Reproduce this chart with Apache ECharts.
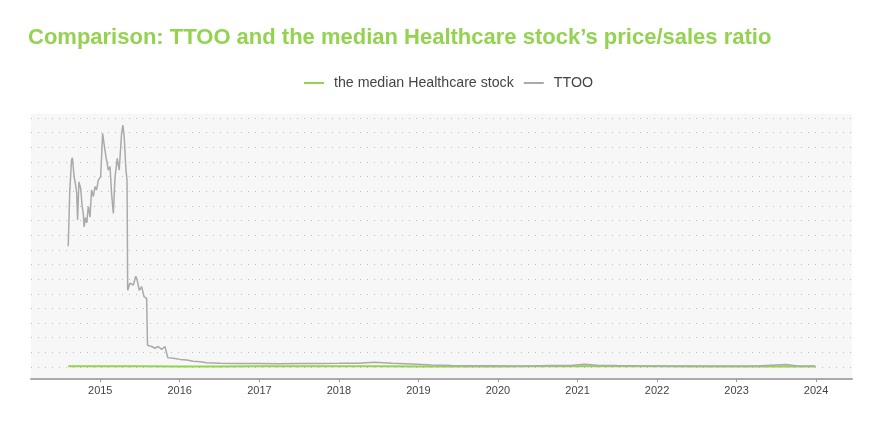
<!DOCTYPE html>
<html><head><meta charset="utf-8">
<script src="https://cdn.jsdelivr.net/npm/echarts@6/dist/echarts.min.js"></script>
<style>html,body{margin:0;padding:0;background:#fff}#c{width:880px;height:440px}</style>
</head><body><div id="c"></div>
<script>
const seriesNames = ['the median Healthcare stock', 'TTOO'];
const ttooDates = ['2014-08-07','2014-08-14','2014-08-22','2014-08-26','2014-09-03','2014-09-10','2014-09-15','2014-09-19','2014-09-25','2014-10-03','2014-10-10','2014-10-15','2014-10-19','2014-10-25','2014-10-31','2014-11-07','2014-11-15','2014-11-22','2014-11-30','2014-12-08','2014-12-15','2014-12-23','2015-01-03','2015-01-12','2015-01-18','2015-01-27','2015-02-03','2015-02-07','2015-02-15','2015-02-22','2015-03-02','2015-03-10','2015-03-15','2015-03-20','2015-03-29','2015-04-09','2015-04-15','2015-04-21','2015-04-29','2015-05-04','2015-05-07','2015-05-17','2015-06-02','2015-06-13','2015-06-20','2015-06-29','2015-07-10','2015-07-21','2015-08-02','2015-08-06','2015-08-25','2015-09-09','2015-09-24','2015-10-10','2015-10-25','2015-11-02','2015-11-07','2015-12-02','2016-01-02','2016-02-02','2016-03-03','2016-04-03','2016-05-04','2016-07-04','2016-10-01','2017-01-01','2017-04-01','2017-07-01','2017-10-01','2018-01-01','2018-04-01','2018-06-15','2018-09-01','2018-12-01','2019-03-01','2019-06-01','2019-09-01','2019-12-01','2020-03-01','2020-06-01','2020-09-01','2020-12-01','2021-02-01','2021-04-01','2021-07-01','2021-10-01','2022-01-01','2022-06-01','2022-12-01','2023-04-01','2023-08-15','2023-10-01','2023-12-29'];
const ttooValues = [206,300,353,357,325,310,297,251,316,305,274,262,239,255,246,274,256,302,291,308,302,319,325,399,382,359,345,336,342,296,262,325,340,356,336,399,413,393,336,319,131,143,140,155,148,131,137,120,117,37,35,32,35,30,35,34,16,15,13,12,10,9,7.3,6.3,6,5.8,5.6,5.8,6,6.2,6.6,8,6.5,5,3.5,2.5,2.2,2,1.8,1.9,2.4,2.6,4.5,3,2.4,2,1.8,1.7,1.6,1.6,4.2,2.2,1.7];
const medianDates = ['2014-08-07','2015-01-01','2015-07-01','2016-01-01','2016-07-01','2017-01-01','2017-07-01','2018-01-01','2018-07-01','2019-01-01','2019-07-01','2020-01-01','2020-07-01','2021-01-01','2021-07-01','2022-01-01','2022-07-01','2023-01-01','2023-07-01','2023-12-29'];
const medianValues = [1.2,1.2,1.1,1.0,1.0,1.1,1.1,1.2,1.2,1.0,1.0,1.0,1.2,1.4,1.3,1.1,1.0,1.0,1.0,1.0];
const yearTicks = ['2015','2016','2017','2018','2019','2020','2021','2022','2023','2024'];

const chart = echarts.init(document.getElementById('c'));
const GREEN = '#93d350', GREY = '#aaaaaa';
const YEAR = 365.25 * 86400000;
chart.setOption({
  animation: false,
  title: {
    text: 'Comparison: TTOO and the median Healthcare stock\u2019s price/sales ratio',
    left: 23, top: 22,
    textStyle: { color: GREEN, fontSize: 22, fontWeight: 'bold', fontFamily: 'Liberation Sans, Arial, sans-serif' }
  },
  legend: {
    top: 71, left: 299, itemWidth: 20, itemHeight: 2, itemGap: 10, icon: 'rect',
    textStyle: { color: '#444', fontSize: 14.2, fontFamily: 'Liberation Sans, Arial, sans-serif', padding: [0,0,0,5] },
    data: [{name: seriesNames[0], itemStyle:{color: GREEN}}, {name: seriesNames[1], itemStyle:{color: GREY}}]
  },
  graphic: [{ type: 'rect', z: -10, silent: true, shape: { x: 31, y: 114, width: 821, height: 265 }, style: { fill: '#f7f7f7' } }],
  grid: { left: 31, right: 28, top: 118, bottom: 73 },
  xAxis: {
    type: 'time', min: '2014-02-17', max: '2024-06-14', offset: 12,
    minInterval: YEAR * 0.98, maxInterval: YEAR * 1.02, splitNumber: 10,
    axisLine: { onZero: false, lineStyle: { color: '#aaaaaa', width: 2 } },
    axisTick: { show: true, length: 3, lineStyle: { color: '#999' } },
    splitLine: { show: false },
    axisLabel: {
      color: '#444', fontSize: 11, margin: 6, fontFamily: 'Liberation Sans, Arial, sans-serif',
      showMinLabel: false, showMaxLabel: false,
      formatter: function (v) { const y = String(new Date(v).getFullYear()); return yearTicks.indexOf(y) >= 0 ? y : ''; }
    }
  },
  yAxis: {
    type: 'value', min: 0, max: 425, interval: 25,
    axisLine: { show: false }, axisTick: { show: false }, axisLabel: { show: false },
    splitLine: { lineStyle: { color: '#bdbdbd', type: [1, 6], width: 1 } }
  },
  series: [
    { name: seriesNames[0], type: 'line', symbol: 'none', lineStyle: { color: GREEN, width: 2 }, itemStyle: {color: GREEN},
      data: medianDates.map((d, i) => [d, medianValues[i]]), z: 2 },
    { name: seriesNames[1], type: 'line', symbol: 'none', lineStyle: { color: GREY, width: 1.5 }, itemStyle: {color: GREY},
      data: ttooDates.map((d, i) => [d, ttooValues[i]]), z: 3 }
  ]
});
</script></body></html>
